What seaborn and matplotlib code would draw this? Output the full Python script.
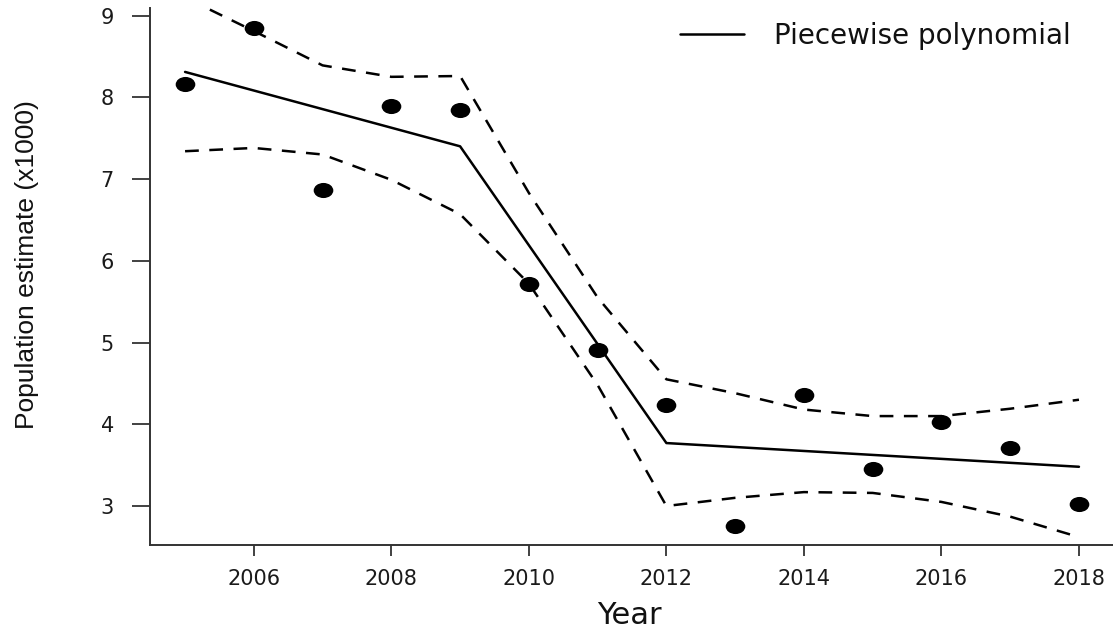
import matplotlib
matplotlib.use("Agg")
import matplotlib.pyplot as plt
from matplotlib.lines import Line2D
from matplotlib.path import Path
from matplotlib.transforms import Affine2D
import seaborn as sns
import pandas as pd

# Observed population estimates (thousands)
years = [2005, 2006, 2007, 2008, 2009, 2010, 2011, 2012, 2013, 2014, 2015, 2016, 2017, 2018]
observed = [8.16, 8.85, 6.87, 7.89, 7.84, 5.71, 4.91, 4.24, 2.76, 4.36, 3.45, 4.03, 3.71, 3.03]

# Piecewise polynomial fit (knots at 2009 and 2012)
fit_years = [2005, 2009, 2012, 2018]
fit_values = [8.31, 7.40, 3.77, 3.48]

# Confidence band around the fit
upper_band = [9.22, 8.81, 8.39, 8.25, 8.26, 6.83, 5.55, 4.55, 4.38, 4.18, 4.10, 4.10, 4.19, 4.30]
lower_band = [7.34, 7.38, 7.30, 6.99, 6.57, 5.72, 4.48, 3.00, 3.10, 3.17, 3.16, 3.05, 2.87, 2.62]

x_ticks = [2006, 2008, 2010, 2012, 2014, 2016, 2018]
y_ticks = [3, 4, 5, 6, 7, 8, 9]

sns.set_style("ticks")
plt.rcParams["font.family"] = ["DejaVu Sans"]

W, H = 1113, 630
fig = plt.figure(figsize=(W / 100, H / 100), dpi=100)
left_px, right_px, bottom_px, top_px = 150, 1115.4, 545, 8
ax = fig.add_axes([left_px / W, 1 - bottom_px / H,
                   (right_px - left_px) / W, (bottom_px - top_px) / H])

obs_df = pd.DataFrame({"year": years, "value": observed})
fit_df = pd.DataFrame({"year": fit_years, "value": fit_values})
band_df = pd.DataFrame({"year": years, "upper": upper_band, "lower": lower_band})

lw = 1.8
dash = (0, (5.5, 4.2))
sns.lineplot(data=fit_df, x="year", y="value", ax=ax, color="black",
             linewidth=lw, estimator=None, sort=False)
for col in ["upper", "lower"]:
    sns.lineplot(data=band_df, x="year", y=col, ax=ax, color="black",
                 linewidth=lw, linestyle=dash, estimator=None, sort=False)

# slightly wide filled dots
dot = Path.unit_circle().transformed(Affine2D().scale(1.3, 1.0))
sns.scatterplot(data=obs_df, x="year", y="value", ax=ax, marker=dot,
                s=200, color="black", edgecolor="black", linewidth=0, zorder=5)

ax.set_xlim(2004.49, 2018.53)
ax.set_ylim(2.523, 9.092)
ax.set_xticks(x_ticks)
ax.set_yticks(y_ticks)
ax.set_xticklabels([str(t) for t in x_ticks])
ax.set_yticklabels([str(t) for t in y_ticks])

for side in ["top", "right"]:
    ax.spines[side].set_visible(False)
for side in ["left", "bottom"]:
    ax.spines[side].set_color("#333333")
    ax.spines[side].set_linewidth(1.4)

ax.tick_params(axis="y", length=13, width=1.3, color="#333333", pad=13,
               labelsize=15, labelcolor="#1a1a1a")
ax.tick_params(axis="x", length=8, width=1.3, color="#333333", pad=9,
               labelsize=15, labelcolor="#1a1a1a")

ax.set_xlabel("")
ax.set_ylabel("")
fig.text(629 / W, 1 - 616 / H, "Year", ha="center", va="center",
         fontsize=22, color="#111111", family=["DejaVu Sans"])
fig.text(27 / W, 1 - 265 / H, "Population estimate (x1000)", ha="center",
         va="center", rotation=90, fontsize=19, color="#111111",
         family=["Liberation Sans Narrow", "Liberation Sans", "DejaVu Sans"])

handle = Line2D([], [], color="black", linewidth=lw)
leg = ax.legend(handles=[handle], labels=["Piecewise polynomial"],
                loc="center left", bbox_to_anchor=(680 / W, 1 - 36 / H),
                bbox_transform=fig.transFigure, frameon=False,
                borderpad=0, borderaxespad=0, handlelength=2.3,
                handletextpad=1.1, fontsize=20)
for t in leg.get_texts():
    t.set_color("#111111")

fig.savefig("out.png", dpi=100)
